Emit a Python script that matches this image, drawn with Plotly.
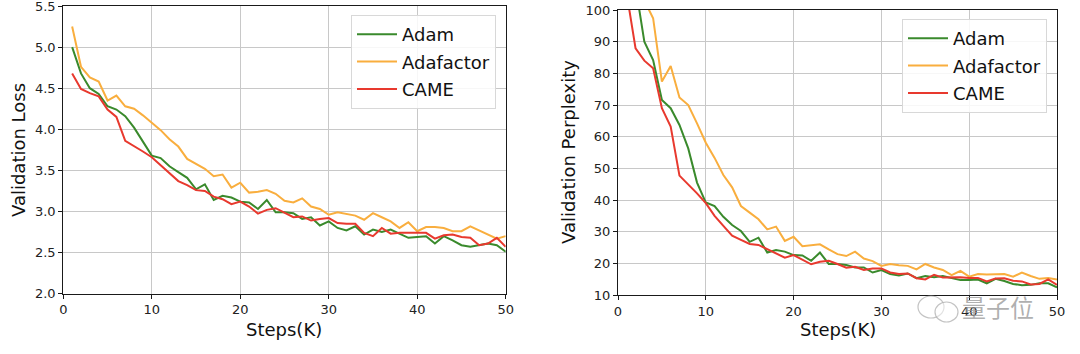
import plotly.graph_objects as go

steps = [1, 2, 3, 4, 5, 6, 7, 8, 9, 10, 11, 12, 13, 14, 15, 16, 17, 18, 19, 20,
         21, 22, 23, 24, 25, 26, 27, 28, 29, 30, 31, 32, 33, 34, 35, 36, 37, 38, 39, 40,
         41, 42, 43, 44, 45, 46, 47, 48, 49, 50]

loss_adam = [5.00, 4.68, 4.50, 4.43, 4.28, 4.24, 4.16, 4.02, 3.85, 3.68,
             3.65, 3.55, 3.48, 3.41, 3.27, 3.33, 3.14, 3.19, 3.17, 3.12,
             3.11, 3.03, 3.14, 2.99, 2.99, 2.98, 2.91, 2.93, 2.83, 2.88,
             2.80, 2.77, 2.82, 2.72, 2.78, 2.75, 2.78, 2.73, 2.68, 2.69,
             2.70, 2.61, 2.70, 2.65, 2.59, 2.57, 2.59, 2.61, 2.59, 2.51]
loss_adafactor = [5.25, 4.76, 4.63, 4.58, 4.35, 4.41, 4.28, 4.25, 4.17, 4.08,
                  3.99, 3.88, 3.79, 3.64, 3.58, 3.52, 3.43, 3.45, 3.29, 3.35,
                  3.23, 3.24, 3.26, 3.215, 3.13, 3.11, 3.16, 3.06, 3.03, 2.96,
                  2.99, 2.97, 2.95, 2.90, 2.98, 2.93, 2.88, 2.80, 2.87, 2.76,
                  2.81, 2.81, 2.80, 2.76, 2.76, 2.82, 2.77, 2.72, 2.67, 2.70]
loss_came = [4.68, 4.49, 4.44, 4.40, 4.24, 4.15, 3.86, 3.80, 3.73, 3.66,
             3.56, 3.47, 3.37, 3.32, 3.26, 3.25, 3.18, 3.15, 3.09, 3.12,
             3.06, 2.975, 3.02, 3.04, 2.98, 2.93, 2.94, 2.89, 2.91, 2.92,
             2.86, 2.85, 2.85, 2.74, 2.70, 2.80, 2.73, 2.74, 2.74, 2.74,
             2.74, 2.67, 2.71, 2.72, 2.69, 2.68, 2.59, 2.61, 2.68, 2.57]

ppl_adam = [118.0, 107.5, 90.0, 84.2, 71.6, 69.0, 63.7, 56.3, 45.5, 39.2,
            38.1, 34.7, 32.1, 30.2, 26.8, 28.1, 23.4, 24.2, 23.7, 22.6,
            22.5, 20.8, 23.4, 19.8, 19.8, 19.5, 18.7, 18.7, 17.1, 17.9,
            16.6, 16.2, 16.8, 15.3, 16.0, 15.6, 16.0, 15.3, 14.7, 14.7,
            14.9, 13.7, 15.1, 14.4, 13.5, 13.1, 13.2, 13.7, 13.7, 12.4]
ppl_adafactor = [130.0, 115.0, 103.0, 97.4, 77.4, 82.3, 72.4, 70.0, 64.2, 58.1,
                 53.3, 47.9, 44.0, 38.1, 36.0, 33.9, 30.7, 31.6, 27.1, 28.4,
                 25.4, 25.7, 26.0, 24.4, 22.9, 22.3, 23.7, 21.5, 20.7, 19.2,
                 19.8, 19.4, 19.2, 18.1, 19.8, 18.7, 17.9, 16.3, 17.6, 15.8,
                 16.6, 16.5, 16.5, 16.6, 15.8, 17.1, 16.0, 15.1, 15.4, 14.9]
ppl_came = [105.0, 87.9, 84.0, 81.6, 69.0, 63.2, 47.7, 45.0, 42.1, 39.0,
            35.0, 31.8, 28.7, 27.4, 26.1, 25.8, 24.4, 23.2, 21.8, 22.6,
            21.1, 19.7, 20.5, 20.8, 19.8, 18.6, 18.9, 17.9, 18.4, 18.4,
            17.1, 16.6, 16.8, 15.3, 14.9, 16.4, 15.5, 15.6, 15.6, 15.4,
            15.4, 14.3, 15.2, 15.3, 14.5, 14.3, 13.3, 13.5, 14.9, 13.2]

names = ["Adam", "Adafactor", "CAME"]
colors = ["#3A8A2C", "#F9AE3E", "#E8392E"]

W, H = 1080, 354
fig = go.Figure()

for name, col, ys in zip(names, colors, [loss_adam, loss_adafactor, loss_came]):
    fig.add_trace(go.Scatter(x=steps, y=ys, mode="lines", name=name,
                             line=dict(color=col, width=2), legendgroup="L" + name,
                             xaxis="x", yaxis="y", legend="legend"))
for name, col, ys in zip(names, colors, [ppl_adam, ppl_adafactor, ppl_came]):
    fig.add_trace(go.Scatter(x=steps, y=ys, mode="lines", name=name,
                             line=dict(color=col, width=2), legendgroup="P" + name,
                             xaxis="x2", yaxis="y2", legend="legend2"))

axis_common = dict(showline=True, mirror=True, linecolor="#1a1a1a", linewidth=1.2,
                   showgrid=True, gridcolor="#c8c8c8", gridwidth=1,
                   zeroline=False, ticks="outside", ticklen=4, tickcolor="#1a1a1a",
                   tickfont=dict(family="DejaVu Sans", size=13, color="#222"),
                   ticklabeloverflow="allow", automargin=False)

legend_common = dict(xanchor="right", yanchor="top", traceorder="grouped",
                     tracegroupgap=1, itemwidth=40,
                     bgcolor="rgba(255,255,255,0.85)", bordercolor="#d8d8d8", borderwidth=1,
                     font=dict(family="DejaVu Sans", size=18, color="#111"))

fig.update_layout(
    width=W, height=H,
    margin=dict(l=0, r=0, t=0, b=0),
    paper_bgcolor="white", plot_bgcolor="white",
    xaxis=dict(domain=[63.3 / W, 505.7 / W], range=[0, 50], dtick=10, anchor="y", **axis_common),
    yaxis=dict(domain=[1 - 293.7 / H, 1 - 6 / H], range=[2.0, 5.5], dtick=0.5,
               tickformat=".1f", anchor="x", **axis_common),
    xaxis2=dict(domain=[618 / W, 1057 / W], range=[0, 50], dtick=10, anchor="y2", **axis_common),
    yaxis2=dict(domain=[1 - 295 / H, 1 - 10 / H], range=[10, 100], dtick=10,
                anchor="x2", **axis_common),
    legend=dict(x=496 / W, y=1 - 15 / H, **legend_common),
    legend2=dict(x=1047 / W, y=1 - 19 / H, **legend_common),
    showlegend=True,
)

title_font = dict(family="DejaVu Sans", size=18, color="#111")
fig.add_annotation(text="Steps(K)", x=284 / W, y=1 - 329 / H, xref="paper", yref="paper",
                   showarrow=False, font=title_font, xanchor="center", yanchor="middle")
fig.add_annotation(text="Steps(K)", x=838 / W, y=1 - 329 / H, xref="paper", yref="paper",
                   showarrow=False, font=title_font, xanchor="center", yanchor="middle")
fig.add_annotation(text="Validation Loss", x=18 / W, y=1 - 150 / H, xref="paper", yref="paper",
                   showarrow=False, font=title_font, textangle=-90,
                   xanchor="center", yanchor="middle")
fig.add_annotation(text="Validation Perplexity", x=568 / W, y=1 - 152 / H, xref="paper", yref="paper",
                   showarrow=False, font=title_font, textangle=-90,
                   xanchor="center", yanchor="middle")

# watermark (WeChat-style bubbles + text)
fig.add_shape(type="circle", xref="paper", yref="paper",
              x0=918 / W, x1=944 / W, y0=1 - 318 / H, y1=1 - 296 / H,
              line=dict(color="rgba(170,170,170,0.7)", width=1.2), fillcolor="rgba(255,255,255,0.5)")
fig.add_shape(type="circle", xref="paper", yref="paper",
              x0=935 / W, x1=958 / W, y0=1 - 322 / H, y1=1 - 302 / H,
              line=dict(color="rgba(170,170,170,0.7)", width=1.2), fillcolor="rgba(255,255,255,0.5)")
fig.add_annotation(text="量子位", x=998 / W, y=1 - 306 / H, xref="paper", yref="paper",
                   showarrow=False, font=dict(family="Noto Sans CJK SC", size=24,
                                              color="rgba(150,150,150,0.75)"),
                   xanchor="center", yanchor="middle")

fig.write_html("out.html")
